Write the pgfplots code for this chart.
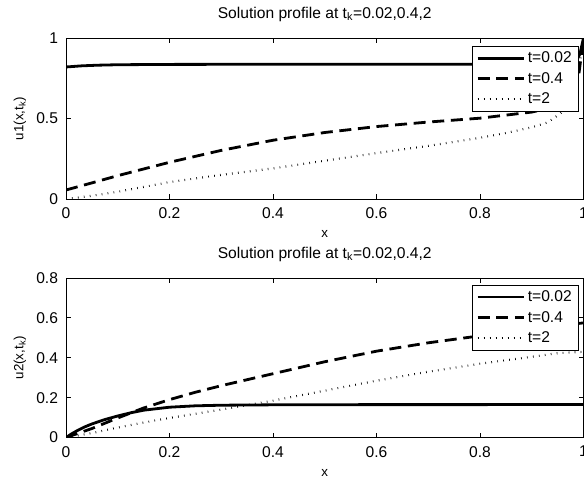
\documentclass[border=0pt]{standalone}
\usepackage{pgfplots}
\pgfplotsset{compat=1.18}
\usepackage{fontspec}
\setmainfont{Liberation Sans}
\newcommand{\fs}{\fontsize{11.7}{14}\selectfont}
\pgfplotsset{
  mystyle/.style={
    scale only axis,
    width=388.125pt,
    xmin=0, xmax=1,
    axis line style={line width=0.6pt},
    tick align=inside,
    tick pos=both,
    major tick length=3.5pt,
    every tick/.style={line width=0.6pt, black},
    xtick={0,0.2,0.4,0.6,0.8,1},
    /pgf/number format/assume math mode=true,
    tick label style={font=\fs},
    xticklabel style={yshift=-3pt},
    yticklabel style={xshift=-2.5pt},
    label style={font=\fs},
    every axis title/.style={font=\fs, at={([yshift=18pt]rel axis cs:0.5,1)}, anchor=center},
    every axis x label/.style={at={([yshift=-26.5pt]rel axis cs:0.5,0)}, anchor=center},
    every axis y label/.style={at={([xshift=-34.5pt]rel axis cs:0,0.5)}, anchor=center, rotate=90},
    legend cell align=left,
    legend style={font=\fs, draw=black, line width=0.6pt, inner xsep=3pt, inner ysep=1pt,
      nodes={inner xsep=2.2pt, inner ysep=2.9pt}, anchor=north east},
    legend image code/.code={\draw[#1] (0pt,0pt) -- (34.5pt,0pt);},
  },
  solidl/.style={black, line width=2.1pt},
  dashl/.style={black, line width=2.1pt, dash pattern=on 9pt off 5pt},
  dotl/.style={black, line width=1.6pt, dash pattern=on 0.5pt off 4pt},
}
\begin{document}
\begin{tikzpicture}
\begin{axis}[mystyle,
  at={(49.5pt,210.75pt)}, anchor=south west,
  height=120.75pt,
  ymin=0, ymax=1, ytick={0,0.5,1},
  title={Solution profile at t\textsubscript{k}=0.02,0.4,2},
  xlabel={x}, ylabel={u1(x,t\textsubscript{k})},
  legend style={at={(rel axis cs:0.9913,0.950)}},
]
\addplot[solidl] coordinates {(0,0.82)(0.03,0.827)(0.06,0.831)(0.1,0.834)(0.2,0.836)(0.4,0.837)(0.6,0.837)(0.8,0.837)(0.9,0.838)(0.97,0.840)(0.985,0.85)(0.993,0.9)(1,1)};
\addlegendentry{t=0.02}
\addplot[dashl] coordinates {(0,0.056)(0.05,0.1)(0.1,0.145)(0.2,0.228)(0.3,0.302)(0.4,0.365)(0.5,0.413)(0.6,0.45)(0.7,0.478)(0.8,0.502)(0.9,0.54)(0.95,0.575)(0.975,0.63)(0.99,0.75)(1,1)};
\addlegendentry{t=0.4}
\addplot[dotl] coordinates {(0,0)(0.05,0.02)(0.1,0.045)(0.2,0.105)(0.3,0.15)(0.4,0.19)(0.5,0.238)(0.6,0.285)(0.7,0.33)(0.8,0.38)(0.85,0.41)(0.9,0.445)(0.93,0.475)(0.955,0.53)(0.975,0.6)(0.99,0.78)(1,1)};
\addlegendentry{t=2}
\end{axis}
\begin{axis}[mystyle,
  at={(49.5pt,31.875pt)}, anchor=south west,
  height=119.625pt,
  ymin=0, ymax=0.8, ytick={0,0.2,0.4,0.6,0.8},
  title={Solution profile at t\textsubscript{k}=0.02,0.4,2},
  xlabel={x}, ylabel={u2(x,t\textsubscript{k})},
  legend style={at={(rel axis cs:0.9913,0.956)}},
]
\addplot[solidl] coordinates {(0,0)(0.01,0.017)(0.02,0.032)(0.035,0.052)(0.05,0.068)(0.075,0.09)(0.1,0.108)(0.125,0.124)(0.15,0.137)(0.2,0.152)(0.25,0.159)(0.3,0.162)(0.4,0.164)(0.6,0.165)(0.8,0.165)(1,0.166)};
\addlegendentry{t=0.02}
\addplot[dashl] coordinates {(0,0)(0.05,0.045)(0.1,0.098)(0.15,0.148)(0.2,0.19)(0.25,0.227)(0.3,0.26)(0.4,0.32)(0.5,0.38)(0.6,0.433)(0.7,0.475)(0.8,0.51)(0.9,0.545)(1,0.575)};
\addlegendentry{t=0.4}
\addplot[dotl] coordinates {(0,0)(0.05,0.022)(0.1,0.05)(0.15,0.075)(0.2,0.098)(0.3,0.14)(0.4,0.185)(0.5,0.235)(0.6,0.285)(0.7,0.33)(0.8,0.37)(0.9,0.405)(0.95,0.423)(1,0.43)};
\addlegendentry{t=2}
\end{axis}
\pgfresetboundingbox
\path (0pt,0pt) rectangle (438pt,360pt);
\end{tikzpicture}
\end{document}
